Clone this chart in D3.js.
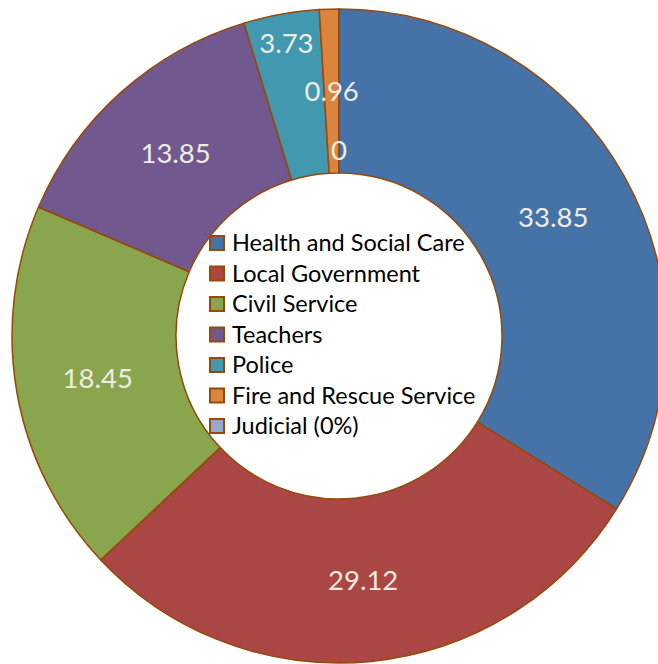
<!DOCTYPE html>
<html>
<head>
<meta charset="utf-8">
<script src="https://cdn.jsdelivr.net/npm/d3@7"></script>
<style>
  body { margin: 0; background: #fff; }
  text { font-family: Lato, "Open Sans", sans-serif; }
</style>
</head>
<body>
<script>
// donut of sector shares, clockwise from 12 o'clock
var width = 658;
var height = 664;

var categories = ["Health and Social Care", "Local Government", "Civil Service",
                  "Teachers", "Police", "Fire and Rescue Service", "Judicial"];
var legendLabels = ["Health and Social Care", "Local Government", "Civil Service",
                    "Teachers", "Police", "Fire and Rescue Service", "Judicial (0%)"];
var values = [33.85, 29.12, 18.45, 13.85, 3.73, 0.96, 0];
var colors = ["#4572A7", "#AA4643", "#89A54E", "#71588F", "#4198AF", "#DB843D", "#93A9CF"];

var cx = 339, cy = 336;
var outerR = 327, innerR = 163;
var edge = "#984807";

// label radius; Excel pushed the two crowded ones in/out
var labelR = 245;
var labelNudge = { "Police": 298, "Judicial": 186 };

var svg = d3.select("body")
    .append("svg")
    .attr("width", width)
    .attr("height", height);

var pie = d3.pie()
    .sort(null)
    .value(function(d){ return d; });

var arc = d3.arc()
    .innerRadius(innerR)
    .outerRadius(outerR);

var arcs = pie(values);

var g = svg.append("g")
    .attr("transform", "translate(" + cx + "," + cy + ")");

g.selectAll("path")
  .data(arcs)
  .enter()
  .append("path")
  .attr("d", arc)
  .attr("fill", function(d, i){ return colors[i]; })
  .attr("stroke", edge)
  .attr("stroke-width", 1.5)
  .attr("stroke-linejoin", "round");

// value labels
g.selectAll("text.val")
  .data(arcs)
  .enter()
  .append("text")
  .attr("class", "val")
  .attr("transform", function(d, i){
    var r = labelNudge[categories[i]] || labelR;
    var a = (d.startAngle + d.endAngle) / 2;
    return "translate(" + (r * Math.sin(a)) + "," + (-r * Math.cos(a)) + ")";
  })
  .attr("dy", "0.36em")
  .attr("text-anchor", "middle")
  .attr("fill", "#EEECE1")
  .style("font-size", "27.5px")
  .text(function(d, i){ return values[i]; });

// legend sitting in the hole
var legend = svg.append("g")
    .attr("transform", "translate(210, 243)");

var rows = legend.selectAll("g")
  .data(legendLabels)
  .enter()
  .append("g")
  .attr("transform", function(d, i){ return "translate(0," + (i * 30.5) + ")"; });

rows.append("rect")
  .attr("x", 0)
  .attr("y", -7)
  .attr("width", 14)
  .attr("height", 14)
  .attr("fill", function(d, i){ return colors[i]; })
  .attr("stroke", edge)
  .attr("stroke-width", 2);

rows.append("text")
  .attr("x", 22)
  .attr("y", 8)
  .attr("fill", "#000")
  .style("font-size", "23.5px")
  .text(function(d){ return d; });
</script>
</body>
</html>
